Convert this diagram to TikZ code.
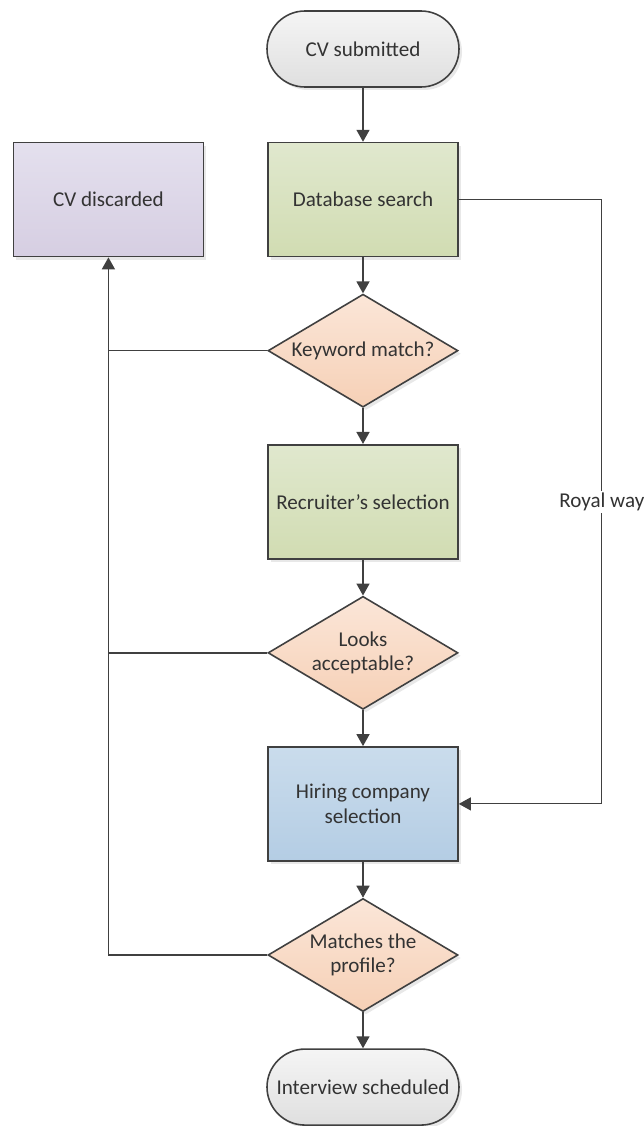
\documentclass[tikz,border=0pt]{standalone}
\usepackage{fontspec}
\setmainfont{Carlito}
\usepackage{xcolor}
\usetikzlibrary{arrows.meta,positioning,shapes.geometric,shadows}

\definecolor{linegray}{HTML}{404040}
\definecolor{textgray}{HTML}{333333}

\begin{document}
\begin{tikzpicture}[
  node distance=7.2mm,
  base/.style={draw=linegray, line width=0.9pt, align=center, text=textgray, font=\fontsize{12}{14}\selectfont, drop shadow={shadow xshift=0.6mm, shadow yshift=-0.6mm, opacity=0.18}},
  terminal/.style={base, rounded corners=7.6mm, minimum width=38.4mm, minimum height=15.2mm, top color=gray!8, bottom color=gray!25},
  process/.style={base, minimum width=38mm, minimum height=22.8mm, top color={rgb,255:red,224;green,232;blue,206}, bottom color={rgb,255:red,209;green,220;blue,178}},
  discardbox/.style={process, top color={rgb,255:red,228;green,224;blue,238}, bottom color={rgb,255:red,214;green,206;blue,226}},
  hiringbox/.style={process, top color={rgb,255:red,202;green,220;blue,236}, bottom color={rgb,255:red,180;green,205;blue,228}},
  decision/.style={base, diamond, aspect=1.68, minimum width=38mm, minimum height=22.6mm, inner sep=0pt, top color={rgb,255:red,251;green,230;blue,216}, bottom color={rgb,255:red,246;green,208;blue,182}},
  arrow/.style={-{Triangle[length=2.4mm, width=2.6mm]}, draw=linegray, line width=0.9pt},
  flow/.style={draw=linegray, line width=0.9pt}
]
\useasboundingbox (0,0) rectangle (12.86,-22.52);
\node[terminal] (cvin) at (7.26,-0.98) {CV submitted};
\node[process, below=10.8mm of cvin] (search) {Database search};
\node[decision, below=of search] (keyword) {Keyword match?};
\node[process, below=of keyword] (recruiter) {Recruiter's selection};
\node[decision, below=of recruiter] (looks) {Looks\\acceptable?};
\node[hiringbox, below=of looks] (hiring) {Hiring company\\selection};
\node[decision, below=of hiring] (profile) {Matches the\\profile?};
\node[terminal, below=of profile] (interview) {Interview scheduled};
\node[discardbox, left=12.6mm of search] (discard) {CV discarded};
\coordinate[right=28.6mm of search.east] (royaltop);
\coordinate[right=28.6mm of hiring.east] (royalbot);
\foreach \a/\b in {cvin/search,search/keyword,keyword/recruiter,recruiter/looks,looks/hiring,hiring/profile,profile/interview} \draw[arrow] (\a) -- (\b);
% rejected CVs go back to the left
\draw[arrow] (profile.west) -| (discard.south);
\draw[flow] (keyword.west) -- (keyword.west -| discard.south);
\draw[flow] (looks.west) -- (looks.west -| discard.south);
% shortcut past the checks
\draw[arrow, line width=0.6pt] (search.east) -- (royaltop) -- node[fill=white, text=textgray, font=\fontsize{12}{14}\selectfont, inner sep=1pt] {Royal way} (royalbot) -- (hiring.east);
\end{tikzpicture}
\end{document}
